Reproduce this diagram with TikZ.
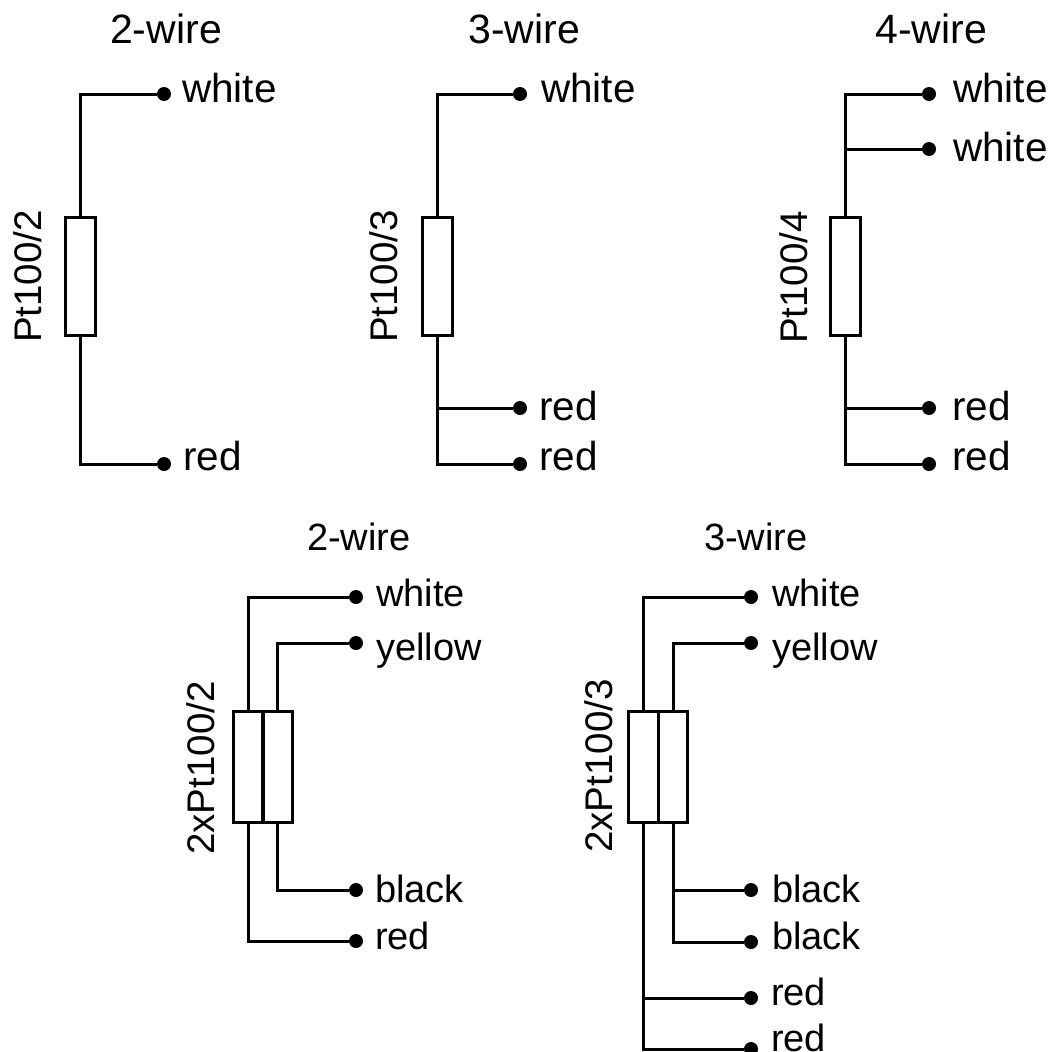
\documentclass[tikz,border=0pt]{standalone}
\usepackage{fontspec}
\setmainfont{Liberation Sans}
\usetikzlibrary{positioning}

\begin{document}
\begin{tikzpicture}[
    x=1pt, y=-1pt,
    pt/.style={rectangle, draw, line width=3pt, minimum width=30pt, minimum height=118pt, inner sep=0pt},
    ptnarrow/.style={rectangle, draw, line width=3pt, minimum width=29.5pt, minimum height=111pt, inner sep=0pt},
    dot/.style={circle, fill=black, minimum size=14pt, inner sep=0pt},
    wire/.style={line width=3pt},
    head/.style={anchor=base west, inner sep=0pt, font=\fontsize{41}{48}\selectfont},
    big/.style={anchor=base west, inner sep=0pt, font=\fontsize{40.5}{48}\selectfont},
    small/.style={anchor=base west, inner sep=0pt, font=\fontsize{38}{46}\selectfont},
    side/.style={anchor=base west, inner sep=0pt, rotate=90, font=\fontsize{38.5}{46}\selectfont}
]
\useasboundingbox (0,0) rectangle (1053,1052);
% Upper row: 2-wire
\node[head] (title1) at (110,43) {2-wire};
\node[pt] (res1) at (80,276) {};
\node[side] (name1) at (41,343) {Pt100/2};
\node[dot] (d1a) at (164,94) {};
\node[dot] (d1b) at (164,464) {};
\node[big] (l1a) at (182,102) {white};
\node[big] (l1b) at (183,470) {red};
\draw[wire] (res1.north) |- (d1a);
\draw[wire] (res1.south) |- (d1b);
% Upper row: 3-wire
\node[head] (title2) at (468,43) {3-wire};
\node[pt] (res2) at (437,276) {};
\node[side] (name2) at (397,343) {Pt100/3};
\node[dot] (d2a) at (520,94) {};
\node[dot] (d2b) at (520,408) {};
\node[dot] (d2c) at (520,464) {};
\node[big] (l2a) at (541,102) {white};
\node[big] (l2b) at (539,420) {red};
\node[big] (l2c) at (539,470) {red};
\draw[wire] (res2.north) |- (d2a);
\draw[wire] (res2.south) |- (d2b);
\draw[wire] (res2.south) |- (d2c);
% Upper row: 4-wire
\node[head] (title3) at (875,43) {4-wire};
\node[pt] (res3) at (845,276) {};
\node[side] (name3) at (807,344) {Pt100/4};
\node[dot] (d3a) at (929,94) {};
\node[dot] (d3b) at (929,149) {};
\node[dot] (d3c) at (929,408) {};
\node[dot] (d3d) at (929,464) {};
\node[big] (l3a) at (953,102) {white};
\node[big] (l3b) at (953,161) {white};
\node[big] (l3c) at (952,420) {red};
\node[big] (l3d) at (952,470) {red};
\draw[wire] (res3.north) |- (d3a);
\draw[wire] (res3.north) |- (d3b);
\draw[wire] (res3.south) |- (d3c);
\draw[wire] (res3.south) |- (d3d);
% Lower row: 2-wire
\node[small] (title4) at (307,550) {2-wire};
\node[ptnarrow] (res4a) at (248.5,766.5) {};
\node[ptnarrow] (res4b) at (277.5,766.5) {};
\node[side] (name4) at (214,855) {2xPt100/2};
\node[dot] (d4a) at (356,597) {};
\node[dot] (d4b) at (356,643) {};
\node[dot] (d4c) at (356,890) {};
\node[dot] (d4d) at (356,941) {};
\node[small] (l4a) at (376,606) {white};
\node[small] (l4b) at (376,660) {yellow};
\node[small] (l4c) at (375,902) {black};
\node[small] (l4d) at (375,949) {red};
\draw[wire] (res4a.north) |- (d4a);
\draw[wire] (res4b.north) |- (d4b);
\draw[wire] (res4b.south) |- (d4c);
\draw[wire] (res4a.south) |- (d4d);
% Lower row: 3-wire
\node[small] (title5) at (704,550) {3-wire};
\node[ptnarrow] (res5a) at (643.5,766.5) {};
\node[ptnarrow] (res5b) at (673,766.5) {};
\node[side] (name5) at (612,853) {2xPt100/3};
\node[dot] (d5a) at (751,597) {};
\node[dot] (d5b) at (751,643) {};
\node[dot] (d5c) at (751,890) {};
\node[dot] (d5d) at (751,942) {};
\node[dot] (d5e) at (751,998) {};
\node[dot] (d5f) at (751,1049) {};
\node[small] (l5a) at (772,606) {white};
\node[small] (l5b) at (772,660) {yellow};
\node[small] (l5c) at (772,902) {black};
\node[small] (l5d) at (772,949) {black};
\node[small] (l5e) at (771,1005) {red};
\node[small] (l5f) at (771,1051) {red};
\draw[wire] (res5a.north) |- (d5a);
\draw[wire] (res5b.north) |- (d5b);
\draw[wire] (res5b.south) |- (d5c);
\draw[wire] (res5b.south) |- (d5d);
\draw[wire] (res5a.south) |- (d5e);
\draw[wire] (res5a.south) |- (d5f);
\end{tikzpicture}
\end{document}
